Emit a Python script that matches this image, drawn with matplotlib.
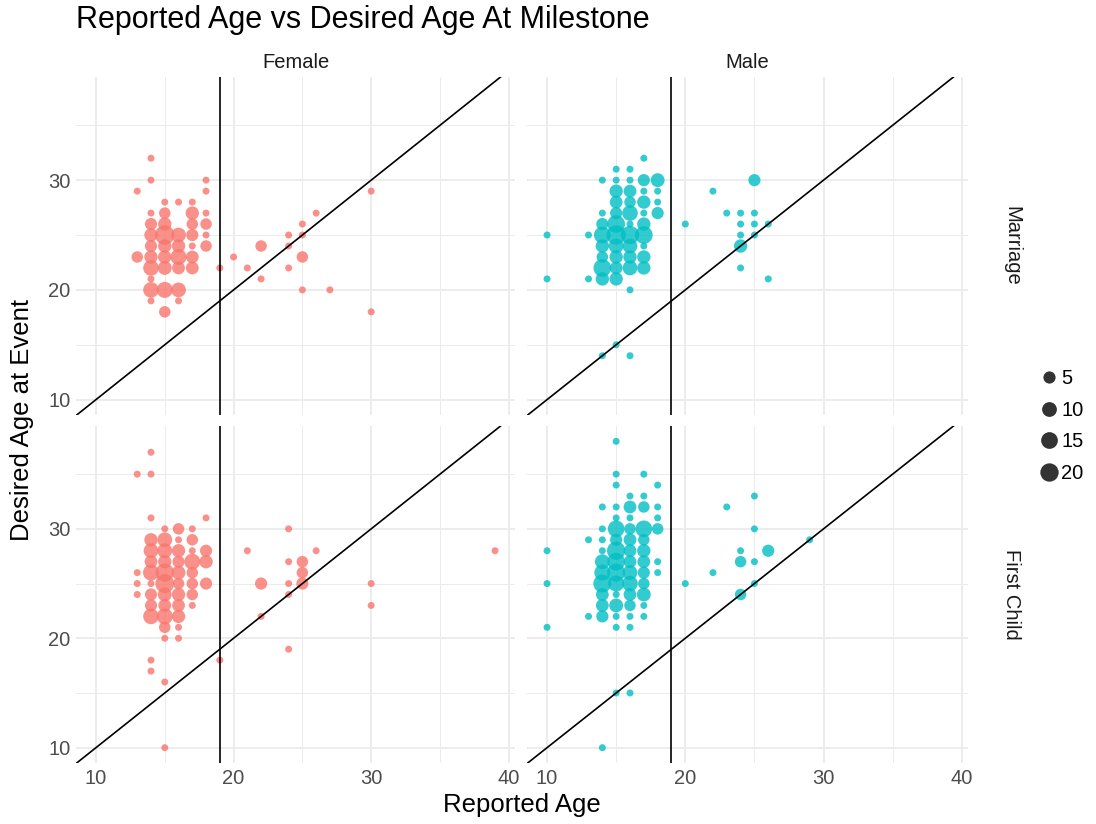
import numpy as np
import matplotlib
matplotlib.use('Agg')
import matplotlib.pyplot as plt
from matplotlib.lines import Line2D

plt.rcParams['font.family'] = ['Liberation Sans', 'DejaVu Sans']

# Female / Marriage  (reported age, desired age, count)
fm_x = [14, 14, 18, 13, 18, 30, 15, 16, 17,
        14, 15, 17, 18, 26,
        14, 15, 17, 18, 25,
        14, 15, 16, 17, 18, 24, 25,
        14, 15, 16, 17, 18, 22, 24,
        13, 14, 15, 16, 17, 20, 25,
        14, 15, 16, 17, 19, 21, 24,
        14, 22,
        14, 15, 16, 25, 27,
        14, 16, 15, 30]
fm_y = [32, 30, 30, 29, 29, 29, 28, 28, 28,
        27, 27, 27, 27, 27,
        26, 26, 26, 26, 26,
        25, 25, 25, 25, 25, 25, 25,
        24, 24, 24, 24, 24, 24, 24,
        23, 23, 23, 23, 23, 23, 23,
        22, 22, 22, 22, 22, 22, 22,
        21, 21,
        20, 20, 20, 20, 20,
        19, 19, 18, 18]
fm_n = [1, 1, 1, 1, 1, 1, 1, 1, 1,
        1, 4, 7, 1, 1,
        5, 7, 4, 4, 1,
        7, 24, 10, 5, 1, 1, 1,
        5, 7, 7, 1, 4, 4, 1,
        4, 7, 7, 13, 6, 1, 4,
        12, 8, 6, 6, 1, 1, 1,
        1, 1,
        12, 13, 10, 1, 1,
        1, 1, 4, 1]

# Male / Marriage
mm_x = [17, 15, 16,
        14, 15, 16, 17, 18, 25,
        15, 16, 17, 18, 22,
        15, 16, 17, 18,
        14, 15, 16, 17, 18, 23, 24, 25,
        14, 15, 16, 17, 20, 24, 25, 26,
        10, 13, 14, 15, 16, 17, 24, 25,
        14, 15, 16, 17, 24,
        14, 15, 16, 17,
        14, 15, 16, 17, 24,
        10, 13, 14, 15, 26,
        16, 15, 14, 16]
mm_y = [32, 31, 31,
        30, 30, 30, 30, 30, 30,
        29, 29, 29, 29, 29,
        28, 28, 28, 28,
        27, 27, 27, 27, 27, 27, 27, 27,
        26, 26, 26, 26, 26, 26, 26, 26,
        25, 25, 25, 25, 25, 25, 25, 25,
        24, 24, 24, 24, 24,
        23, 23, 23, 23,
        22, 22, 22, 22, 22,
        21, 21, 21, 21, 21,
        20, 15, 14, 14]
mm_n = [1, 1, 1,
        1, 1, 1, 5, 8, 5,
        7, 6, 1, 1, 1,
        6, 4, 7, 1,
        1, 5, 12, 1, 5, 1, 1, 1,
        5, 18, 1, 7, 1, 1, 1, 1,
        1, 1, 15, 24, 20, 18, 1, 1,
        7, 10, 10, 1, 7,
        4, 7, 7, 7,
        18, 6, 10, 7, 1,
        1, 1, 7, 7, 1,
        1, 1, 1, 1]

# Female / First Child
fc_x = [14, 13, 14, 14, 18,
        15, 16, 17, 24,
        14, 15, 16, 17,
        14, 15, 16, 17, 18, 21, 26, 39,
        14, 15, 16, 17, 18, 24, 25,
        13, 14, 15, 16, 17, 25,
        13, 14, 15, 16, 17, 18, 22, 24, 25, 30,
        13, 14, 15, 16, 17, 24,
        14, 15, 16, 17, 30,
        14, 15, 16, 22,
        15, 16, 15, 16,
        24, 14, 19, 14, 15, 15]
fc_y = [37, 35, 35, 31, 31,
        30, 30, 30, 30,
        29, 29, 29, 29,
        28, 28, 28, 28, 28, 28, 28, 28,
        27, 27, 27, 27, 27, 27, 27,
        26, 26, 26, 26, 26, 26,
        25, 25, 25, 25, 25, 25, 25, 25, 25, 25,
        24, 24, 24, 24, 24, 24,
        23, 23, 23, 23, 23,
        22, 22, 22, 22,
        21, 21, 20, 20,
        19, 18, 18, 17, 16, 10]
fc_n = [1, 1, 1, 1, 1,
        1, 4, 1, 1,
        7, 10, 1, 4,
        10, 10, 7, 1, 5, 1, 1, 1,
        6, 7, 5, 13, 7, 1, 4,
        1, 13, 20, 8, 4, 4,
        1, 1, 22, 4, 4, 5, 5, 1, 5, 1,
        1, 5, 8, 7, 4, 1,
        5, 6, 6, 1, 1,
        12, 13, 7, 1,
        4, 1, 1, 1,
        1, 1, 1, 1, 1, 1]

# Male / First Child
mc_x = [15, 15, 17, 15, 18, 16, 17, 25,
        14, 15, 16, 17, 18, 23,
        15, 16, 18,
        14, 15, 16, 17, 18, 25,
        13, 14, 15, 16, 17, 29,
        10, 14, 15, 16, 17, 24, 26,
        14, 15, 16, 17, 18, 24, 25,
        14, 15, 16, 17, 18, 22,
        10, 14, 15, 16, 17, 20, 25,
        14, 15, 16, 17, 24,
        14, 15, 16, 17,
        13, 14, 15, 16, 17,
        10, 15, 16,
        15, 16, 14]
mc_y = [38, 35, 35, 34, 34, 33, 33, 33,
        32, 32, 32, 32, 32, 32,
        31, 31, 31,
        30, 30, 30, 30, 30, 30,
        29, 29, 29, 29, 29, 29,
        28, 28, 28, 28, 28, 28, 28,
        27, 27, 27, 27, 27, 27, 27,
        26, 26, 26, 26, 26, 26,
        25, 25, 25, 25, 25, 25, 25,
        24, 24, 24, 24, 24,
        23, 23, 23, 23,
        22, 22, 22, 22, 22,
        21, 21, 21,
        15, 15, 10]
mc_n = [1, 1, 1, 1, 1, 1, 1, 1,
        1, 1, 6, 4, 1, 1,
        1, 1, 1,
        1, 15, 4, 15, 4, 1,
        1, 1, 5, 6, 4, 1,
        1, 1, 20, 6, 7, 1, 5,
        10, 18, 6, 6, 1, 4, 1,
        13, 19, 10, 5, 1, 1,
        1, 19, 13, 12, 4, 1, 1,
        6, 1, 6, 8, 4,
        6, 8, 4, 1,
        1, 5, 1, 1, 1,
        1, 1, 1,
        1, 1, 1]

genders = ['Female', 'Male']
events = ['Marriage', 'First Child']
colors = {'Female': '#F8766D', 'Male': '#00BFC4'}
size_breaks = [5, 10, 15, 20]
cutoff_age = 19

panels = {
    ('Female', 'Marriage'): (fm_x, fm_y, fm_n),
    ('Male', 'Marriage'): (mm_x, mm_y, mm_n),
    ('Female', 'First Child'): (fc_x, fc_y, fc_n),
    ('Male', 'First Child'): (mc_x, mc_y, mc_n),
}

W, H = 1096, 824


def diam(n):
    # marker diameter in points, area grows with the count
    return (7 + 2.6 * np.sqrt(np.asarray(n, dtype=float) - 1)) * 0.72


def box(x0, y0, x1, y1):
    return [x0 / W, 1 - y1 / H, (x1 - x0) / W, (y1 - y0) / H]


fig = plt.figure(figsize=(W / 100, H / 100), dpi=100)

col_x = [(76, 515), (527, 968)]
row_y = [(77, 415), (426, 763)]

for r, ev in enumerate(events):
    for c, g in enumerate(genders):
        x, y, n = panels[(g, ev)]
        ax = fig.add_axes(box(col_x[c][0], row_y[r][0], col_x[c][1], row_y[r][1]))
        ax.scatter(x, y, s=diam(n) ** 2, color=colors[g], alpha=0.8,
                   linewidths=0, zorder=3)
        ax.axvline(cutoff_age, color='black', lw=1.2, zorder=4)
        ax.axline((0, 0), slope=1, color='black', lw=1.2, zorder=4)
        ax.set_xlim(8.55, 40.45)
        ax.set_ylim(8.6, 39.4)
        ax.set_xticks([10, 20, 30, 40])
        ax.set_xticks([15, 25, 35], minor=True)
        ax.set_yticks([10, 20, 30])
        ax.set_yticks([15, 25, 35], minor=True)
        ax.grid(which='major', color='#EBEBEB', lw=1.3, zorder=0)
        ax.grid(which='minor', color='#EBEBEB', lw=0.7, zorder=0)
        ax.set_axisbelow(True)
        for s in ax.spines.values():
            s.set_visible(False)
        ax.tick_params(which='both', length=0, labelsize=14.5,
                       labelcolor='#4D4D4D', pad=4)
        ax.tick_params(labelbottom=(r == 1), labelleft=(c == 0))
        if r == 0:
            ax.text(0.5, 1.0 + 15 / 338, g, transform=ax.transAxes,
                    ha='center', va='center', fontsize=14.5, color='#1A1A1A')
        if c == 1:
            ax.text(1.0 + 44 / 441, 0.5, ev, transform=ax.transAxes,
                    ha='center', va='center', rotation=-90,
                    fontsize=14.5, color='#1A1A1A')

fig.text(76 / W, 1 - 20 / H, 'Reported Age vs Desired Age At Milestone',
         ha='left', va='center', fontsize=22)
fig.text(522 / W, 1 - 805 / H, 'Reported Age', ha='center', va='center',
         fontsize=18.5)
fig.text(22 / W, 1 - 420 / H, 'Desired Age at Event', ha='center',
         va='center', rotation=90, fontsize=18.5)

handles = [Line2D([], [], ls='none', marker='o', markersize=diam(b),
                  markerfacecolor='black', markeredgewidth=0, alpha=0.8)
           for b in size_breaks]
fig.legend(handles, [str(b) for b in size_breaks], loc='center left',
           bbox_to_anchor=(1041 / W, 1 - 426 / H), frameon=False,
           fontsize=14.5, labelspacing=0.62, handletextpad=0.2,
           handlelength=0.8, borderpad=0, borderaxespad=0)

fig.savefig('out.png', dpi=100)
